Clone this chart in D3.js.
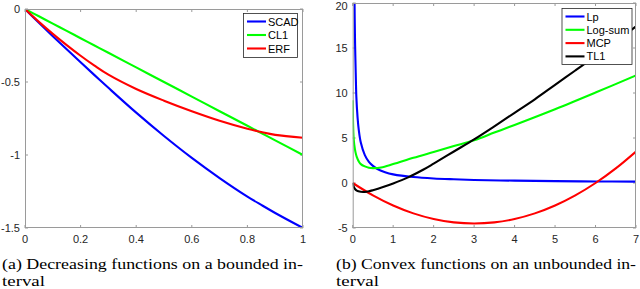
<!DOCTYPE html>
<html><head><meta charset="utf-8">
<script src="https://cdn.jsdelivr.net/npm/d3@7"></script>
<style>body{margin:0;background:#fff}svg{display:block}</style>
</head><body>
<svg id="c" width="640" height="289"></svg>
<script>
// ---- Panel (a) data ----
const aX    = [0,0.05,0.1,0.15,0.2,0.25,0.3,0.4,0.5,0.6,0.7,0.8,0.85,0.9,1.0];
const aSCAD = [0,-0.094,-0.186,-0.276,-0.365,-0.453,-0.54,-0.71,-0.87,-1.02,-1.158,-1.285,-1.342,-1.397,-1.5];
const aCL1  = [0,-0.05,-0.1,-0.15,-0.2,-0.25,-0.3,-0.4,-0.5,-0.6,-0.7,-0.8,-0.85,-0.9,-1.0];
const aERF  = [0,-0.088,-0.17,-0.247,-0.32,-0.388,-0.45,-0.548,-0.628,-0.7,-0.765,-0.82,-0.843,-0.862,-0.882];
const aNames = ["SCAD","CL1","ERF"];
const aXTicks = [0,0.2,0.4,0.6,0.8,1];
const aYTicks = [0,-0.5,-1,-1.5];

// ---- Panel (b) data ----
const lpX  = [0.04,0.05,0.06,0.075,0.09,0.12,0.15,0.2,0.3,0.4,0.5,0.6,0.8,1.0,1.5,2,2.5,3,4,5,6,7];
const lpY  = [23,18.2,15.2,12.2,9.6,7.3,5.9,4.5,3.1,2.35,1.9,1.58,1.2,0.96,0.66,0.5,0.41,0.34,0.26,0.21,0.17,0.15];
const lsX  = [0,0.005,0.01,0.02,0.04,0.07,0.1,0.15,0.2,0.3,0.4,0.5,0.7,1.0,1.5,2,2.5,3,3.5,4,5,6,7];
const lsY  = [9.2,7.6,6.5,5.2,4.2,3.4,2.9,2.4,2.1,1.85,1.7,1.65,1.72,2.1,2.8,3.45,4.1,4.75,5.6,6.45,8.2,10.05,11.95];
const mcpX = [0,0.5,1,1.5,2,2.5,3,3.5,4,4.5,5,5.5,6,6.5,7];
const mcpY = [0,-1.375,-2.5,-3.375,-4,-4.375,-4.5,-4.375,-4,-3.375,-2.5,-1.375,0,1.625,3.5];
const tlX  = [0,0.02,0.05,0.1,0.2,0.3,0.4,0.5,0.75,1.0,1.37,1.75,2,2.5,3,3.5,4,4.5,5,5.5,6,6.5,7];
const tlY  = [0,-0.35,-0.62,-0.85,-0.98,-0.99,-0.92,-0.8,-0.45,-0.05,0.63,1.5,2.15,3.5,4.85,6.3,7.8,9.3,10.9,12.5,14.1,15.7,17.4];
const bNames = ["Lp","Log-sum","MCP","TL1"];
const bXTicks = [0,1,2,3,4,5,6,7];
const bYTicks = [-5,0,5,10,15,20];

const svg = d3.select("#c");
const axisCol = "#9a9a9a", textCol = "#262626";
const tickFont = "Liberation Sans, Arial, sans-serif";

function panel(cfg) {
  const {x0,x1,y0,y1,xDom,yDom,xTicks,yTicks,series,legend,fmt,id} = cfg;
  const x = d3.scaleLinear().domain(xDom).range([x0,x1]);
  const y = d3.scaleLinear().domain(yDom).range([y1,y0]);
  const g = svg.append("g");
  g.append("clipPath").attr("id",id).append("rect")
    .attr("x",x0).attr("y",y0).attr("width",x1-x0).attr("height",y1-y0);
  const tl = 3;
  xTicks.forEach(t=>{
    g.append("line").attr("x1",x(t)).attr("x2",x(t)).attr("y1",y1).attr("y2",y1-tl).attr("stroke",axisCol);
    g.append("line").attr("x1",x(t)).attr("x2",x(t)).attr("y1",y0).attr("y2",y0+tl).attr("stroke",axisCol);
    g.append("text").attr("x",x(t)).attr("y",y1+15).attr("text-anchor","middle")
      .attr("font-family",tickFont).attr("font-size",11).attr("fill",textCol).text(fmt(t));
  });
  yTicks.forEach(t=>{
    g.append("line").attr("x1",x0).attr("x2",x0+tl).attr("y1",y(t)).attr("y2",y(t)).attr("stroke",axisCol);
    g.append("line").attr("x1",x1).attr("x2",x1-tl).attr("y1",y(t)).attr("y2",y(t)).attr("stroke",axisCol);
    g.append("text").attr("x",x0-5).attr("y",Math.max(y(t)+4,10)).attr("text-anchor","end")
      .attr("font-family",tickFont).attr("font-size",11).attr("fill",textCol).text(fmt(t));
  });
  const lines = g.append("g").attr("clip-path",`url(#${id})`);
  series.forEach(s=>{
    const pts = s.xs.map((v,i)=>[v,s.ys[i]]);
    lines.append("path").datum(pts)
      .attr("d", d3.line().x(d=>x(d[0])).y(d=>y(d[1])).curve(d3.curveCatmullRom.alpha(0.5)))
      .attr("fill","none").attr("stroke",s.color).attr("stroke-width",2.1);
  });
  g.append("rect").attr("x",x0+0.5).attr("y",y0+0.5).attr("width",x1-x0-1).attr("height",y1-y0-1)
    .attr("fill","none").attr("stroke",axisCol);
  const L = legend;
  const lg = g.append("g");
  lg.append("rect").attr("x",L.x+0.5).attr("y",L.y+0.5).attr("width",L.w).attr("height",L.h)
    .attr("fill","#fff").attr("stroke","#262626").attr("stroke-width",0.8);
  series.forEach((s,i)=>{
    const yy = L.y + L.first + i*L.step;
    lg.append("line").attr("x1",L.x+4).attr("x2",L.x+23).attr("y1",yy).attr("y2",yy)
      .attr("stroke",s.color).attr("stroke-width",2.1);
    lg.append("text").attr("x",L.x+25).attr("y",yy+4).attr("font-family",tickFont)
      .attr("font-size",11).attr("fill","#000").text(s.name);
  });
}

const aColors = ["#0000ff","#00ff00","#ff0000"];
panel({id:"ca",x0:25,x1:303,y0:9,y1:228,xDom:[0,1],yDom:[-1.5,0],
  xTicks:aXTicks,yTicks:aYTicks,fmt:d=>String(d),
  series:[aSCAD,aCL1,aERF].map((ys,i)=>({xs:aX,ys,color:aColors[i],name:aNames[i]})),
  legend:{x:243,y:13,w:54,h:44,first:8.5,step:13.5}});

const bColors = ["#0000ff","#00ff00","#ff0000","#000000"];
panel({id:"cb",x0:352.7,x1:636,y0:3,y1:228,xDom:[0,7],yDom:[-5,20],
  xTicks:bXTicks,yTicks:bYTicks,fmt:d=>String(d),
  series:[[lpX,lpY],[lsX,lsY],[mcpX,mcpY],[tlX,tlY]].map((p,i)=>({xs:p[0],ys:p[1],color:bColors[i],name:bNames[i]})),
  legend:{x:561.5,y:8,w:70,h:56,first:8.5,step:13.3}});

const capFont = "Liberation Serif, 'DejaVu Serif', serif";
function cap(x, y, txt, w) {
  const t = svg.append("text").attr("x",x).attr("y",y).attr("font-family",capFont)
    .attr("font-size",15).attr("fill","#000").text(txt);
  if (w) t.attr("textLength",w).attr("lengthAdjust","spacingAndGlyphs");
}
cap(2,269,"(a) Decreasing functions on a bounded in-",301);
cap(2,286,"terval",43);
cap(336,269,"(b) Convex functions on an unbounded in-",300);
cap(336,286,"terval",43);
</script>
</body></html>
